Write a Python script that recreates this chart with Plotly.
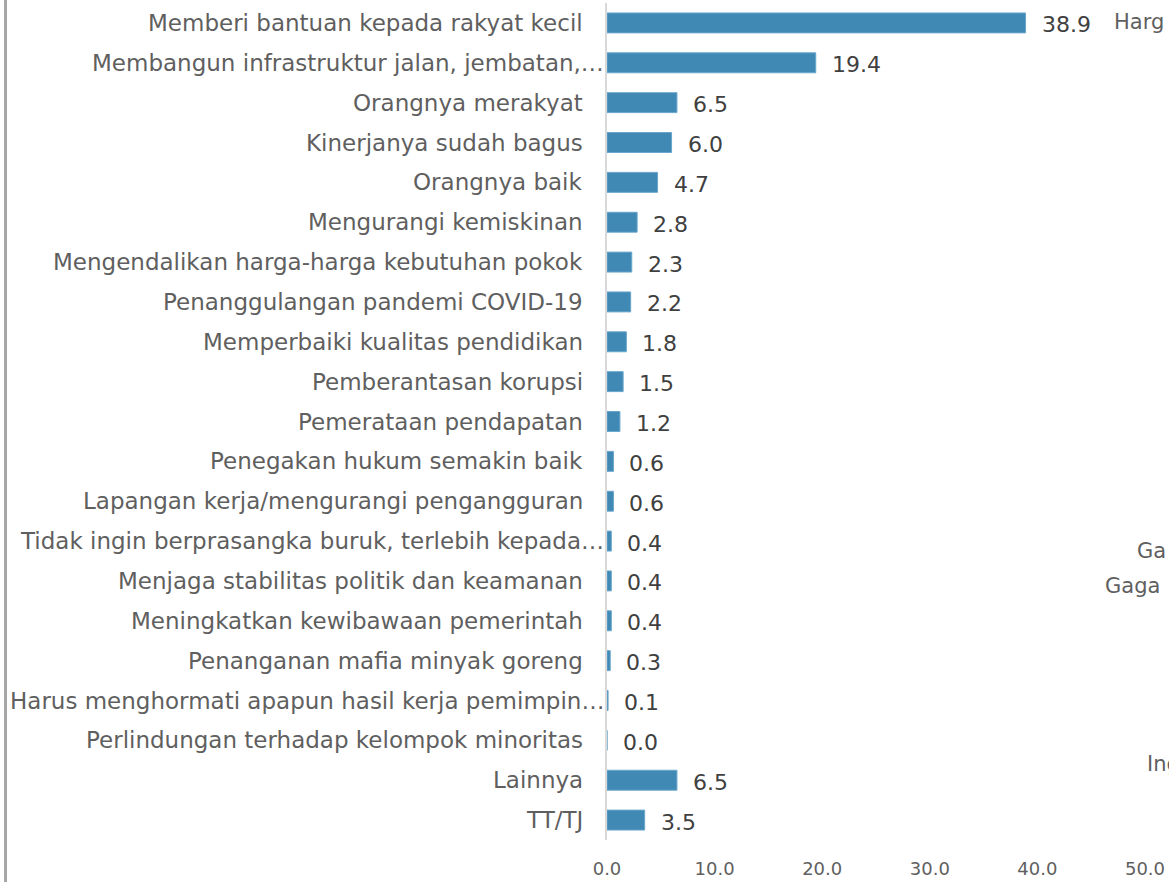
import plotly.graph_objects as go

categories = [
    "Memberi bantuan kepada rakyat kecil",
    "Membangun infrastruktur jalan, jembatan,…",
    "Orangnya merakyat",
    "Kinerjanya sudah bagus",
    "Orangnya baik",
    "Mengurangi kemiskinan",
    "Mengendalikan harga-harga kebutuhan pokok",
    "Penanggulangan pandemi COVID-19",
    "Memperbaiki kualitas pendidikan",
    "Pemberantasan korupsi",
    "Pemerataan pendapatan",
    "Penegakan hukum semakin baik",
    "Lapangan kerja/mengurangi pengangguran",
    "Tidak ingin berprasangka buruk, terlebih kepada…",
    "Menjaga stabilitas politik dan keamanan",
    "Meningkatkan kewibawaan pemerintah",
    "Penanganan mafia minyak goreng",
    "Harus menghormati apapun hasil kerja pemimpin…",
    "Perlindungan terhadap kelompok minoritas",
    "Lainnya",
    "TT/TJ",
]
values = [38.9, 19.4, 6.5, 6.0, 4.7, 2.8, 2.3, 2.2, 1.8, 1.5, 1.2, 0.6, 0.6,
          0.4, 0.4, 0.4, 0.3, 0.1, 0.0, 6.5, 3.5]
x_ticks = [0, 10, 20, 30, 40, 50]
x_tick_labels = ["0.0", "10.0", "20.0", "30.0", "40.0", "50.0"]

# cut-off text fragments of a neighbouring chart at the right edge
side_texts = ["Harg", "Ga", "Gaga", "Ing"]
side_x = [0.9387, 0.981, 0.922, 1.0]
side_y = [0.977, 0.345, 0.3035, 0.0908]

FONT = "DejaVu Sans"
GREY = "#5f5f5f"

fig = go.Figure()
fig.add_trace(go.Bar(
    x=values, y=categories, orientation="h",
    marker=dict(color="#3f89b4", line=dict(color="#6aa6cc", width=1)),
    width=0.5, hoverinfo="skip",
))

# value labels
for c, v in zip(categories, values):
    fig.add_annotation(x=v, y=c, text=f"{v:.1f}", showarrow=False,
                       xanchor="left", xshift=14, yshift=-2,
                       font=dict(family=FONT, size=22, color="#404040"))

# category labels (Excel-style: truncated labels run up to the axis)
for c in categories:
    fig.add_annotation(x=0, y=c, text=c, showarrow=False, xanchor="right",
                       xshift=-1 if c.endswith("…") else -22,
                       font=dict(family=FONT, size=23, color=GREY))

for t, sx, sy in zip(side_texts, side_x, side_y):
    fig.add_annotation(x=sx, y=sy, xref="paper", yref="paper", text=t,
                       showarrow=False, xanchor="left", yanchor="middle",
                       font=dict(family=FONT, size=21, color=GREY))

# grey frame line at the left edge
fig.add_shape(type="line", xref="paper", yref="paper",
              x0=-1.118, x1=-1.118, y0=-0.06, y1=1.01,
              line=dict(color="#a6a6a6", width=3))

fig.update_layout(
    width=1169, height=882,
    margin=dict(l=607, r=24, t=3, b=42, autoexpand=False),
    paper_bgcolor="white", plot_bgcolor="white",
    showlegend=False, bargap=0.5,
    font=dict(family=FONT, color=GREY),
    xaxis=dict(range=[0, 50], tickvals=x_ticks, ticktext=x_tick_labels,
               showgrid=False, zeroline=False, showline=False,
               tickfont=dict(family=FONT, size=18, color=GREY),
               ticklabelstandoff=16, automargin=False),
    yaxis=dict(autorange="reversed", showgrid=False, zeroline=False,
               showline=True, linecolor="#d9d9d9", linewidth=2,
               showticklabels=False, automargin=False),
)

fig.write_html("out.html", config={"displayModeBar": False},
               post_script="document.body.style.margin='0';")
